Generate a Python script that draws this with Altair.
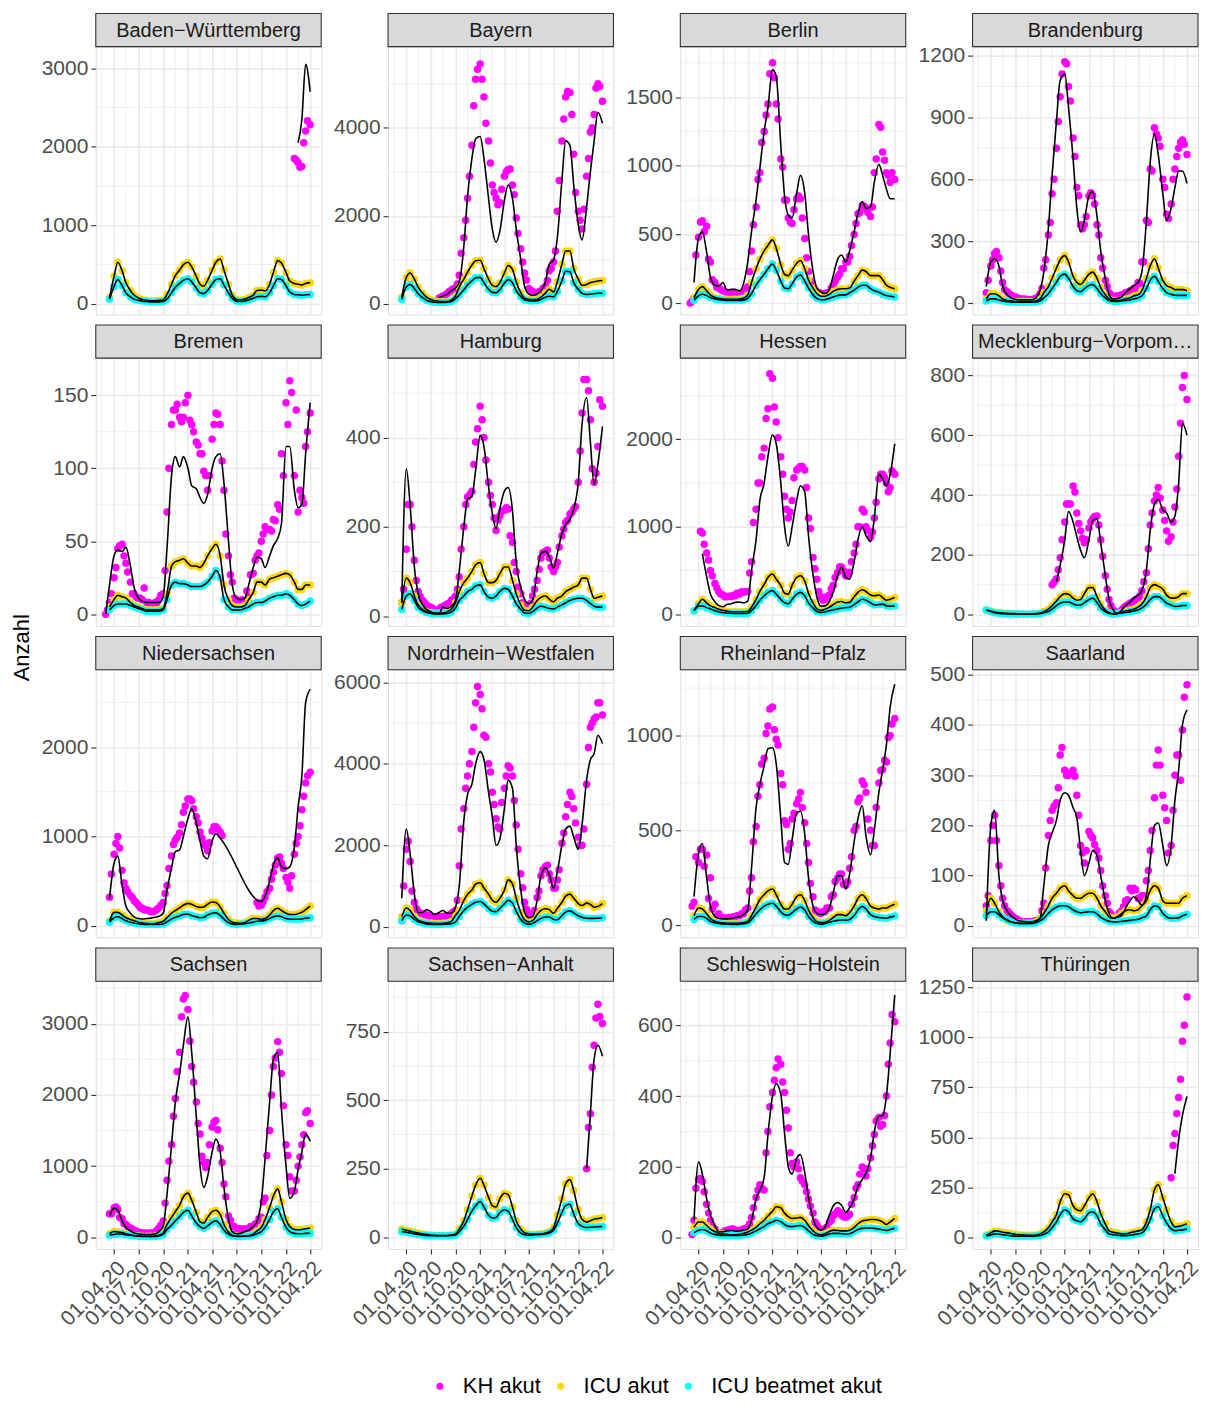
import altair as alt
import pandas as pd

N = None
FONT = "Liberation Sans"

# sampling dates: 1st and 15th of each month
DATES = [
    "2020-03-01", "2020-03-15", "2020-04-01", "2020-04-15", "2020-05-01", "2020-05-15",
    "2020-06-01", "2020-06-15", "2020-07-01", "2020-07-15", "2020-08-01", "2020-08-15",
    "2020-09-01", "2020-09-15", "2020-10-01", "2020-10-15", "2020-11-01", "2020-11-15",
    "2020-12-01", "2020-12-15", "2021-01-01", "2021-01-15", "2021-02-01", "2021-02-15",
    "2021-03-01", "2021-03-15", "2021-04-01", "2021-04-15", "2021-05-01", "2021-05-15",
    "2021-06-01", "2021-06-15", "2021-07-01", "2021-07-15", "2021-08-01", "2021-08-15",
    "2021-09-01", "2021-09-15", "2021-10-01", "2021-10-15", "2021-11-01", "2021-11-15",
    "2021-12-01", "2021-12-15", "2022-01-01", "2022-01-15", "2022-02-01", "2022-02-15",
    "2022-03-01", "2022-03-15", "2022-04-01",
]
# extra KH reading dates: 8th and 22nd of each month
MID_DATES = [
    "2020-03-08", "2020-03-22", "2020-04-08", "2020-04-22", "2020-05-08", "2020-05-22",
    "2020-06-08", "2020-06-22", "2020-07-08", "2020-07-22", "2020-08-08", "2020-08-22",
    "2020-09-08", "2020-09-22", "2020-10-08", "2020-10-22", "2020-11-08", "2020-11-22",
    "2020-12-08", "2020-12-22", "2021-01-08", "2021-01-22", "2021-02-08", "2021-02-22",
    "2021-03-08", "2021-03-22", "2021-04-08", "2021-04-22", "2021-05-08", "2021-05-22",
    "2021-06-08", "2021-06-22", "2021-07-08", "2021-07-22", "2021-08-08", "2021-08-22",
    "2021-09-08", "2021-09-22", "2021-10-08", "2021-10-22", "2021-11-08", "2021-11-22",
    "2021-12-08", "2021-12-22", "2022-01-08", "2022-01-22", "2022-02-08", "2022-02-22",
    "2022-03-08", "2022-03-22",
]

SERIES = ["KH akut", "ICU akut", "ICU beatmet akut"]
COLORS = ["#FF00FF", "#FFD700", "#00FFFF"]

# ---------------- Baden-Württemberg ----------------
BW_KH = [N, N, N, N, N, N, N, N, N, N,
         N, N, N, N, N, N, N, N, N, N,
         N, N, N, N, N, N, N, N, N, N,
         N, N, N, N, N, N, N, N, N, N,
         N, N, N, N, N, N, 1850, 1800, 1750, 2200,
         2280]
BW_KH_MID = [N, N, N, N, N, N, N, N, N, N,
             N, N, N, N, N, N, N, N, N, N,
             N, N, N, N, N, N, N, N, N, N,
             N, N, N, N, N, N, N, N, N, N,
             N, N, N, N, N, N, 1830, 1740, 2050, 2330]
BW_FIT = [N, N, N, N, N, N, N, N, N, N,
          N, N, N, N, N, N, N, N, N, N,
          N, N, N, N, N, N, N, N, N, N,
          N, N, N, N, N, N, N, N, N, N,
          N, N, N, N, N, N, N, 2050, 2350, 3050,
          2700]
BW_ICU = [N, 80, 350, 530, 420, 270, 170, 110, 75, 55,
          45, 40, 40, 45, 50, 120, 250, 360, 430, 500,
          530, 470, 350, 250, 225, 300, 430, 530, 570, 430,
          250, 110, 55, 50, 60, 80, 110, 170, 175, 165,
          250, 400, 550, 520, 400, 290, 260, 250, 240, 260,
          270]
BW_VENT = [N, 60, 220, 310, 230, 140, 90, 60, 45, 35,
           30, 25, 25, 25, 30, 60, 140, 210, 260, 300,
           320, 280, 200, 140, 130, 170, 250, 310, 320, 240,
           140, 70, 35, 30, 35, 50, 70, 90, 95, 90,
           140, 230, 320, 310, 230, 150, 120, 115, 110, 115,
           120]

# ---------------- Bayern ----------------
BY_KH = [N, N, N, N, N, N, N, N, N, N,
         130, 180, 240, 300, 360, 650, 1500, 2400, 3600, 5100,
         5450, 4700, 3700, 2700, 2400, 2300, 2900, 3050, 2700, 1950,
         1250, 700, 350, 280, 260, 290, 400, 750, 950, 2100,
         3700, 4700, 4800, 3400, 2100, 1700, 2900, 3900, 4300, 5000,
         4600]
BY_KH_MID = [N, N, N, N, N, N, N, N, N, N,
             150, 195, 280, 340, 450, 1150, 1900, 2900, 4500, 5330,
             5100, 4100, 3200, 2530, 2250, 2600, 3000, 3060, 2480, 1600,
             950, 540, 310, 260, 275, 350, 530, 800, 1200, 2800,
             4200, 4820, 4300, 2530, 1900, 2150, 3300, 4000, 4900, 4940]
BY_FIT = [N, N, N, N, N, N, N, N, N, N,
          140, 180, 220, 300, 360, 500, 1300, 2450, 3300, 3750,
          3800, 3300, 2400, 1700, 1400, 1650, 2350, 2700, 2400, 1700,
          1000, 400, 220, 190, 230, 300, 500, 900, 1000, 1500,
          2800, 3700, 3600, 2700, 1800, 1450, 2200, 3000, 3700, 4350,
          4100]
BY_ICU = [N, 150, 600, 700, 560, 380, 240, 150, 100, 70,
          55, 50, 55, 80, 180, 380, 560, 720, 880, 980,
          990, 800, 560, 420, 390, 480, 700, 870, 780, 500,
          250, 130, 100, 90, 100, 150, 250, 330, 270, 500,
          900, 1200, 1200, 800, 560, 420, 440, 480, 500, 520,
          530]
BY_VENT = [N, 100, 380, 440, 350, 230, 140, 80, 50, 35,
           30, 30, 35, 50, 120, 200, 320, 430, 520, 590,
           600, 480, 330, 260, 250, 320, 470, 550, 480, 300,
           160, 90, 70, 65, 70, 100, 150, 170, 160, 280,
           520, 740, 730, 480, 330, 240, 210, 220, 230, 240,
           240]

# ---------------- Berlin ----------------
BE_KH = [0, 40, 480, 600, 560, 300, 150, 110, 90, 80,
         70, 65, 60, 80, 120, 380, 700, 950, 1250, 1450,
         1750, 1450, 1050, 750, 620, 580, 760, 760, 470, 230,
         120, 80, 70, 68, 75, 130, 190, 250, 300, 340,
         500, 650, 710, 690, 630, 950, 1300, 1100, 950, 880,
         900]
BE_KH_MID = [15, 350, 590, 520, 320, 170, 115, 100, 82, 75,
             70, 62, 60, 95, 230, 570, 900, 1170, 1370, 1670,
             1640, 1340, 990, 750, 590, 680, 780, 620, 330, 160,
             100, 78, 68, 75, 110, 160, 210, 250, 300, 420,
             580, 660, 705, 660, 700, 1050, 1280, 1040, 930, 950]
BE_FIT = [N, 150, 480, 520, 370, 190, 130, 125, 150, 95,
          100, 100, 90, 140, 300, 520, 750, 980, 1250, 1420,
          1700, 1650, 1150, 780, 640, 620, 800, 930, 800, 500,
          230, 110, 80, 70, 100, 200, 320, 350, 300, 380,
          520, 650, 740, 690, 700, 880, 1010, 930, 830, 760,
          760]
BE_ICU = [N, 40, 100, 120, 90, 60, 40, 35, 30, 28,
          28, 28, 30, 35, 60, 150, 250, 320, 380, 420,
          460, 400, 280, 210, 200, 240, 290, 310, 250, 170,
          110, 70, 50, 50, 65, 85, 100, 105, 105, 110,
          160, 200, 240, 230, 200, 200, 200, 170, 130, 115,
          105]
BE_VENT = [N, 20, 55, 65, 55, 40, 30, 25, 22, 20,
           20, 20, 20, 22, 35, 70, 130, 170, 210, 250,
           285, 240, 160, 110, 105, 140, 190, 205, 160, 110,
           60, 35, 25, 25, 35, 45, 55, 60, 60, 75,
           95, 115, 130, 130, 105, 90, 80, 65, 55, 50,
           45]

# ---------------- Brandenburg ----------------
BB_KH = [N, 50, 180, 240, 220, 100, 55, 38, 30, 22,
         20, 17, 16, 22, 45, 170, 330, 530, 750, 1000,
         1170, 1050, 800, 560, 380, 380, 520, 520, 380, 220,
         110, 50, 30, 35, 40, 50, 60, 70, 100, 200,
         400, 650, 850, 800, 600, 430, 480, 650, 750, 790,
         720]
BB_KH_MID = [N, 110, 210, 250, 155, 65, 45, 33, 25, 20,
             18, 16, 20, 28, 70, 210, 390, 600, 880, 1110,
             1160, 980, 710, 520, 360, 420, 535, 480, 330, 170,
             80, 40, 30, 36, 43, 52, 60, 70, 95, 200,
             390, 640, 820, 760, 560, 410, 600, 710, 780, 770]
BB_FIT = [N, 80, 200, 215, 180, 80, 40, 25, 18, 16,
          16, 16, 16, 25, 60, 150, 360, 620, 880, 1080,
          1110, 950, 700, 460, 345, 400, 520, 540, 420, 250,
          120, 40, 20, 22, 30, 50, 70, 85, 100, 150,
          400, 680, 820, 720, 530, 400, 460, 560, 640, 640,
          580]
BB_ICU = [N, 20, 45, 45, 35, 20, 12, 10, 8, 8,
          8, 8, 8, 10, 20, 50, 80, 120, 170, 210,
          230, 200, 130, 100, 90, 110, 140, 150, 120, 75,
          40, 20, 12, 12, 15, 20, 25, 35, 40, 60,
          120, 180, 215, 170, 110, 85, 75, 65, 65, 65,
          60]
BB_VENT = [N, 10, 20, 20, 15, 10, 6, 5, 4, 4,
           4, 4, 4, 5, 10, 25, 45, 70, 100, 130,
           140, 120, 80, 60, 55, 70, 85, 90, 70, 45,
           25, 12, 8, 8, 10, 12, 15, 20, 25, 35,
           70, 110, 130, 105, 70, 50, 42, 38, 37, 37,
           37]

# ---------------- Bremen ----------------
HB_KH = [0, 8, 25, 45, 48, 35, 22, 14, 11, 10,
         8, 7, 8, 10, 14, 70, 130, 140, 135, 135,
         150, 130, 118, 110, 98, 85, 120, 138, 130, 85,
         40, 22, 10, 7, 9, 14, 28, 40, 50, 60,
         58, 65, 75, 110, 145, 160, 95, 70, 80, 115,
         138]
HB_KH_MID = [3, 14, 32, 47, 40, 29, 14, 12, 11, 18,
             8, 7, 8, 13, 30, 100, 140, 144, 132, 145,
             133, 125, 116, 110, 95, 95, 130, 137, 105, 55,
             27, 11, 7, 10, 16, 27, 37, 42, 55, 58,
             57, 64, 72, 95, 130, 152, 140, 85, 76, 125]
HB_FIT = [0, 20, 40, 44, 43, 46, 33, 18, 11, 9,
          8, 8, 8, 8, 12, 45, 95, 108, 101, 108,
          100, 88, 86, 80, 76, 82, 100, 108, 110, 90,
          50, 20, 11, 10, 11, 20, 32, 39, 38, 32,
          40, 47, 52, 62, 115, 115, 85, 73, 75, 110,
          145]
HB_ICU = [N, 5, 10, 13, 12, 11, 8, 6, 5, 4,
          3, 3, 3, 3, 4, 14, 33, 36, 37, 38,
          35, 33, 33, 32, 35, 40, 45, 48, 40, 20,
          10, 6, 5, 5, 6, 10, 15, 22, 22, 20,
          24, 25, 26, 27, 28, 27, 22, 17, 17, 20,
          20]
HB_VENT = [N, 3, 6, 7, 7, 7, 6, 5, 4, 3,
           2, 2, 2, 2, 3, 10, 20, 22, 21, 21,
           20, 19, 19, 19, 20, 22, 26, 30, 25, 10,
           5, 3, 3, 3, 4, 5, 7, 8, 8, 9,
           11, 12, 13, 13, 14, 13, 10, 7, 6, 7,
           9]

# ---------------- Hamburg ----------------
HH_KH = [N, 30, 150, 250, 125, 55, 35, 25, 20, 15,
         15, 20, 27, 35, 45, 88, 200, 267, 280, 390,
         470, 400, 300, 250, 192, 225, 237, 240, 165, 100,
         50, 25, 22, 45, 80, 130, 145, 130, 100, 120,
         180, 210, 228, 240, 300, 455, 530, 440, 300, 380,
         470]
HH_KH_MID = [N, 60, 250, 200, 80, 45, 30, 22, 17, 14,
             20, 24, 29, 38, 60, 150, 250, 272, 340, 420,
             440, 350, 270, 220, 215, 235, 243, 180, 120, 65,
             30, 21, 28, 60, 105, 142, 148, 110, 110, 155,
             195, 215, 232, 245, 370, 530, 505, 330, 320, 485]
HH_FIT = [N, 30, 330, 250, 110, 50, 25, 15, 10, 6,
          5, 20, 17, 22, 35, 100, 200, 262, 268, 327,
          405, 380, 290, 230, 196, 240, 280, 288, 237, 120,
          65, 38, 28, 35, 100, 140, 145, 133, 108, 140,
          185, 205, 217, 240, 300, 430, 490, 390, 295, 340,
          425]
HH_ICU = [N, 30, 85, 75, 45, 25, 15, 10, 8, 7,
          7, 7, 10, 15, 30, 55, 75, 85, 100, 115,
          120, 95, 75, 75, 80, 95, 110, 110, 80, 50,
          25, 13, 12, 20, 35, 42, 45, 38, 32, 40,
          45, 55, 60, 65, 70, 85, 85, 60, 40, 42,
          45]
HH_VENT = [N, 15, 45, 50, 35, 20, 12, 8, 6, 5,
           5, 5, 6, 9, 18, 35, 45, 55, 60, 68,
           70, 55, 42, 40, 45, 55, 62, 60, 45, 28,
           15, 7, 6, 10, 18, 22, 20, 17, 16, 20,
           25, 30, 35, 38, 40, 40, 35, 28, 22, 20,
           20]

# ---------------- Hessen ----------------
HE_KH = [N, N, N, 930, 700, 500, 350, 260, 220, 200,
         200, 210, 230, 250, 260, 600, 1200, 1500, 1900, 2350,
         2700, 2200, 1800, 1350, 1100, 1300, 1650, 1690, 1650, 1100,
         650, 400, 200, 170, 220, 330, 480, 540, 440, 480,
         700, 1000, 1200, 1000, 880, 1100, 1550, 1600, 1500, 1450,
         1600]
HE_KH_MID = [N, N, 950, 800, 620, 440, 300, 230, 200, 205,
             218, 240, 256, 256, 470, 1050, 1500, 1800, 2240, 2750,
             2370, 2020, 1600, 1200, 1170, 1560, 1670, 1690, 1450, 980,
             520, 260, 160, 200, 290, 420, 542, 500, 445, 600,
             800, 1000, 1170, 960, 940, 1280, 1600, 1560, 1400, 1640]
HE_FIT = [N, N, N, 690, 430, 230, 140, 100, 85, 110,
          120, 135, 140, 130, 150, 500, 850, 1300, 1500, 1800,
          2050, 1950, 1500, 1000, 780, 1000, 1300, 1470, 1400, 900,
          450, 200, 90, 95, 150, 250, 450, 540, 420, 400,
          600, 850, 1000, 900, 830, 1100, 1600, 1550, 1470, 1600,
          1950]
HE_ICU = [N, 40, 120, 170, 130, 95, 75, 55, 45, 35,
          27, 27, 27, 28, 30, 80, 170, 260, 340, 420,
          460, 400, 330, 240, 230, 330, 420, 440, 380, 240,
          130, 60, 45, 55, 80, 110, 140, 145, 130, 135,
          200, 250, 280, 260, 220, 210, 220, 190, 160, 170,
          190]
HE_VENT = [N, 40, 90, 95, 75, 60, 40, 25, 18, 12,
           10, 8, 8, 8, 10, 40, 100, 160, 210, 250,
           270, 230, 170, 130, 120, 170, 230, 250, 210, 130,
           70, 30, 20, 25, 40, 50, 60, 70, 75, 80,
           110, 140, 170, 160, 130, 105, 110, 115, 95, 90,
           95]

# ---------------- Mecklenburg-Vorpommern ----------------
MV_KH = [N, N, N, N, N, N, N, N, N, N,
         N, N, N, N, N, N, N, 100, 120, 190,
         310, 370, 430, 340, 280, 240, 290, 320, 330, 250,
         130, 50, 15, 5, 15, 28, 38, 45, 55, 80,
         140, 300, 380, 425, 350, 280, 260, 360, 530, 760,
         720]
MV_KH_MID = [N, N, N, N, N, N, N, N, N, N,
             N, N, N, N, N, N, N, 108, 150, 250,
             370, 370, 410, 305, 255, 250, 310, 328, 300, 195,
             85, 30, 10, 6, 22, 32, 41, 50, 62, 110,
             220, 340, 400, 390, 315, 245, 310, 420, 640, 800]
MV_FIT = [N, N, N, N, N, N, N, N, N, N,
          N, N, N, N, N, N, N, N, 110, 165,
          250, 345, 310, 260, 215, 190, 250, 315, 320, 240,
          130, 50, 15, 3, 15, 30, 42, 55, 65, 80,
          150, 280, 370, 385, 350, 340, 310, 330, 440, 640,
          600]
MV_ICU = [N, 15, 12, 8, 6, 5, 4, 3, 3, 2,
          2, 2, 2, 3, 5, 10, 18, 30, 45, 60,
          70, 68, 55, 48, 50, 70, 90, 90, 60, 35,
          15, 6, 3, 4, 8, 12, 15, 18, 25, 35,
          60, 90, 100, 95, 85, 65, 55, 55, 60, 70,
          70]
MV_VENT = [N, 15, 10, 6, 4, 3, 2, 2, 2, 2,
           2, 2, 2, 2, 3, 6, 10, 18, 30, 38,
           42, 42, 36, 31, 32, 40, 50, 55, 40, 22,
           10, 4, 2, 3, 5, 7, 9, 12, 15, 22,
           35, 50, 60, 60, 50, 38, 32, 27, 28, 30,
           30]

# ---------------- Niedersachsen ----------------
NI_KH = [N, 320, 800, 1000, 620, 420, 340, 280, 230, 195,
         175, 160, 165, 200, 260, 450, 780, 960, 1040, 1270,
         1420, 1400, 1220, 1050, 920, 840, 1060, 1110, 1050, N,
         N, N, N, N, N, N, N, 260, 230, 320,
         420, 600, 760, 700, 540, 420, 800, 1000, 1300, 1600,
         1720]
NI_KH_MID = [N, 580, 920, 870, 480, 380, 315, 260, 200, 180,
             170, 156, 185, 230, 360, 640, 910, 990, 1130, 1340,
             1420, 1310, 1150, 980, 895, 930, 1110, 1085, 1010, N,
             N, N, N, N, N, N, N, 220, 270, 380,
             520, 680, 770, 640, 490, 560, 920, 1120, 1450, 1680]
NI_FIT = [N, 300, 700, 780, 450, 220, 140, 100, 80, 75,
          80, 85, 95, 105, 140, 400, 650, 830, 850, 1000,
          1200, 1310, 1150, 950, 780, 750, 950, 1030, 980, N,
          N, N, N, N, N, N, N, N, 270, 330,
          500, 680, 760, 660, 640, 660, 880, 1330, 1680, 2500,
          2650]
NI_ICU = [N, 50, 150, 150, 120, 90, 70, 55, 40, 30,
          25, 22, 25, 35, 50, 90, 140, 170, 200, 230,
          250, 240, 215, 205, 210, 240, 265, 260, 210, 140,
          70, 40, 30, 28, 35, 60, 80, 80, 70, 80,
          120, 170, 195, 170, 140, 125, 125, 135, 150, 180,
          220]
NI_VENT = [N, 40, 90, 100, 80, 55, 40, 30, 22, 18,
           15, 14, 14, 15, 20, 45, 75, 95, 110, 125,
           130, 115, 100, 90, 95, 120, 140, 145, 115, 75,
           35, 18, 15, 18, 22, 30, 40, 50, 52, 60,
           80, 100, 110, 100, 80, 75, 72, 72, 75, 85,
           90]

# ---------------- Nordrhein-Westfalen ----------------
NW_KH = [N, 150, 1900, 1600, 600, 380, 320, 290, 260, 245,
         245, 250, 270, 320, 400, 1500, 2900, 3700, 4300, 5500,
         5700, 4700, 4000, 3300, 2650, 2400, 3400, 3950, 3700, 2500,
         1300, 600, 290, 330, 720, 1250, 1480, 1300, 950, 1150,
         2050, 2700, 3300, 2900, 2200, 2000, 3500, 4900, 5100, 5500,
         5200]
NW_KH_MID = [N, 1000, 2100, 880, 450, 330, 300, 270, 250, 245,
             245, 265, 290, 360, 650, 2400, 3400, 4000, 4900, 5900,
             5350, 4650, 3800, 3000, 2450, 3050, 3700, 3900, 3100, 1900,
             960, 430, 300, 400, 880, 1400, 1510, 1150, 950, 1400,
             2300, 3000, 3200, 2550, 2000, 2400, 4400, 5000, 5150, 5500]
NW_FIT = [N, 700, 2400, 1800, 800, 350, 350, 420, 370, 300,
          350, 400, 330, 330, 480, 1000, 2600, 3250, 3500, 4000,
          4300, 4100, 3300, 2700, 2000, 2150, 2900, 3600, 3400, 2000,
          900, 350, 220, 250, 650, 1250, 1450, 1280, 950, 1350,
          2000, 2400, 2470, 2200, 1900, 2500, 3600, 4100, 4250, 4700,
          4500]
NW_ICU = [N, 250, 460, 400, 250, 160, 120, 100, 90, 82,
          80, 85, 95, 130, 280, 400, 650, 800, 900, 1050,
          1080, 950, 800, 650, 600, 700, 900, 1150, 1050, 700,
          350, 170, 120, 150, 300, 400, 440, 420, 330, 450,
          600, 750, 800, 700, 570, 520, 580, 550, 480, 500,
          570]
NW_VENT = [N, 150, 290, 270, 180, 120, 90, 70, 60, 55,
           55, 60, 65, 75, 120, 250, 400, 480, 550, 600,
           620, 560, 450, 380, 370, 450, 560, 650, 580, 380,
           180, 90, 60, 80, 150, 200, 240, 240, 180, 170,
           270, 360, 390, 340, 270, 230, 210, 205, 205, 210,
           220]

# ---------------- Rheinland-Pfalz ----------------
RP_KH = [N, 120, 330, 400, 370, 250, 110, 60, 40, 35,
         38, 44, 50, 60, 90, 250, 520, 740, 880, 1050,
         1150, 980, 800, 550, 400, 560, 640, 700, 540, 330,
         150, 75, 62, 70, 90, 160, 250, 270, 210, 300,
         500, 650, 760, 700, 500, 420, 750, 820, 860, 1000,
         1090]
RP_KH_MID = [100, 360, 400, 310, 140, 85, 50, 40, 35, 40,
             44, 50, 60, 80, 180, 440, 680, 850, 1010, 1140,
             1030, 950, 740, 530, 430, 590, 665, 620, 430, 220,
             80, 65, 70, 90, 150, 230, 270, 215, 229, 360,
             520, 670, 740, 560, 420, 620, 815, 870, 990, 1060]
RP_FIT = [N, 150, 380, 430, 250, 100, 45, 35, 33, 33,
          35, 40, 44, 55, 80, 300, 620, 740, 840, 930,
          935, 850, 560, 330, 320, 450, 590, 600, 480, 250,
          100, 62, 55, 60, 90, 170, 260, 260, 190, 270,
          440, 560, 630, 470, 370, 500, 700, 820, 950, 1150,
          1270]
RP_ICU = [N, 50, 90, 85, 60, 35, 20, 15, 12, 10,
          9, 9, 10, 13, 20, 50, 95, 135, 160, 180,
          190, 160, 110, 85, 85, 110, 150, 160, 130, 80,
          40, 18, 14, 15, 25, 40, 55, 55, 50, 65,
          100, 140, 160, 140, 100, 90, 85, 90, 90, 100,
          110]
RP_VENT = [N, 30, 45, 45, 35, 20, 12, 8, 6, 5,
           4, 4, 5, 7, 12, 30, 60, 80, 100, 110,
           115, 100, 70, 55, 52, 65, 85, 95, 80, 45,
           20, 8, 5, 8, 15, 20, 25, 27, 26, 30,
           50, 80, 98, 85, 55, 45, 40, 38, 36, 42,
           48]

# ---------------- Saarland ----------------
SL_KH = [N, 40, 170, 220, 120, 55, 30, 22, 15, 10,
         8, 8, 8, 10, 14, 45, 180, 230, 245, 340,
         310, 300, 310, 260, 160, 125, 188, 175, 150, 110,
         60, 28, 18, 17, 30, 50, 75, 75, 55, 60,
         90, 150, 255, 350, 260, 210, 160, 300, 340, 390,
         480]
SL_KH_MID = [N, 60, 200, 170, 80, 40, 26, 18, 13, 9,
             8, 8, 9, 11, 30, 115, 210, 238, 275, 355,
             300, 305, 298, 220, 145, 150, 180, 162, 135, 80,
             45, 24, 15, 25, 38, 52, 70, 72, 55, 60,
             110, 190, 320, 320, 235, 145, 230, 340, 290, 455]
SL_FIT = [N, 10, 200, 230, 100, 50, 30, 20, 14, 10,
          9, 8, 8, 10, 15, 80, 160, 185, 210, 250,
          265, 260, 235, 215, 150, 100, 125, 150, 140, 100,
          50, 25, 15, 17, 21, 35, 50, 58, 50, 41,
          60, 130, 200, 205, 160, 120, 160, 250, 310, 400,
          430]
SL_ICU = [N, 30, 55, 45, 28, 18, 10, 8, 6, 5,
          5, 5, 6, 8, 15, 25, 40, 55, 65, 75,
          80, 70, 60, 55, 55, 60, 65, 65, 55, 40,
          28, 18, 15, 18, 25, 30, 32, 30, 32, 40,
          50, 70, 80, 75, 50, 45, 45, 45, 45, 55,
          60]
SL_VENT = [N, 20, 28, 28, 22, 16, 12, 8, 6, 5,
           5, 5, 5, 6, 10, 15, 25, 32, 37, 40,
           40, 38, 32, 28, 26, 27, 28, 28, 24, 17,
           12, 9, 8, 8, 9, 10, 11, 12, 13, 16,
           20, 32, 40, 38, 25, 18, 15, 15, 16, 20,
           23]

# ---------------- Sachsen ----------------
SN_KH = [N, 330, 410, 390, 260, 180, 130, 90, 70, 60,
         58, 60, 70, 130, 230, 800, 1300, 1950, 2600, 3350,
         3200, 2400, 1900, 1450, 1050, 1050, 1550, 1640, 1250, 750,
         300, 160, 120, 115, 115, 120, 150, 190, 280, 550,
         1500, 2400, 2750, 2300, 1300, 850, 650, 1000, 1300, 1750,
         1600]
SN_KH_MID = [N, 330, 425, 280, 195, 150, 115, 90, 68, 60,
             58, 65, 100, 170, 480, 1070, 1700, 2330, 3100, 3400,
             2760, 2180, 1600, 1140, 980, 1300, 1620, 1510, 1050, 570,
             240, 150, 120, 117, 117, 150, 188, 260, 500, 1150,
             2000, 2520, 2600, 1850, 1150, 650, 800, 1130, 1440, 1780]
SN_FIT = [N, 300, 410, 380, 230, 140, 90, 60, 45, 40,
          38, 38, 45, 80, 160, 600, 1300, 1900, 2300, 2700,
          3100, 2600, 1700, 1000, 700, 850, 1200, 1380, 1200, 700,
          250, 80, 50, 55, 80, 100, 150, 230, 500, 1100,
          1900, 2500, 2600, 1800, 1000, 550, 650, 950, 1200, 1450,
          1350]
SN_ICU = [N, 50, 80, 75, 65, 50, 35, 25, 18, 15,
          14, 14, 18, 30, 60, 180, 280, 360, 450, 570,
          620, 520, 350, 220, 200, 280, 360, 380, 320, 180,
          70, 30, 18, 15, 18, 25, 45, 90, 140, 250,
          420, 580, 680, 500, 250, 150, 110, 105, 110, 120,
          130]
SN_VENT = [N, 30, 40, 45, 45, 35, 28, 20, 15, 12,
           10, 9, 10, 18, 40, 110, 170, 230, 290, 350,
           380, 300, 200, 150, 125, 160, 210, 230, 180, 100,
           40, 18, 12, 12, 14, 18, 30, 50, 80, 140,
           250, 360, 400, 280, 140, 80, 55, 50, 50, 55,
           56]

# ---------------- Sachsen-Anhalt ----------------
ST_KH = [N, N, N, N, N, N, N, N, N, N,
         N, N, N, N, N, N, N, N, N, N,
         N, N, N, N, N, N, N, N, N, N,
         N, N, N, N, N, N, N, N, N, N,
         N, N, N, N, N, N, 250, 450, 700, 850,
         780]
ST_KH_MID = [N, N, N, N, N, N, N, N, N, N,
             N, N, N, N, N, N, N, N, N, N,
             N, N, N, N, N, N, N, N, N, N,
             N, N, N, N, N, N, N, N, N, N,
             N, N, N, N, N, N, 400, 620, 800, 805]
ST_FIT = [N, N, N, N, N, N, N, N, N, N,
          N, N, N, N, N, N, N, N, N, N,
          N, N, N, N, N, N, N, N, N, N,
          N, N, N, N, N, N, N, N, N, N,
          N, N, N, N, N, N, 250, 450, 650, 700,
          660]
ST_ICU = [N, 30, 25, 22, 18, 15, 12, 10, 8, 7,
          6, 6, 6, 8, 12, 30, 60, 100, 150, 190,
          215, 190, 145, 115, 110, 140, 160, 155, 110, 60,
          30, 16, 12, 11, 11, 12, 15, 20, 35, 80,
          140, 195, 210, 170, 100, 65, 55, 60, 65, 68,
          72]
ST_VENT = [N, 20, 18, 15, 12, 10, 8, 6, 5, 5,
           5, 5, 5, 6, 8, 20, 40, 65, 95, 115,
           130, 110, 80, 70, 72, 90, 100, 95, 65, 35,
           15, 9, 7, 8, 9, 10, 12, 15, 25, 50,
           90, 115, 120, 85, 50, 40, 35, 36, 37, 38,
           39]

# ---------------- Schleswig-Holstein ----------------
SH_KH = [N, 50, 165, 160, 95, 49, 25, 13, 15, 20,
         25, 22, 21, 25, 30, 58, 114, 150, 135, 300,
         410, 480, 490, 410, 310, 210, 215, 170, 150, 110,
         70, 37, 22, 25, 45, 62, 77, 65, 58, 67,
         114, 150, 200, 175, 226, 292, 340, 320, 400, 550,
         610]
SH_KH_MID = [10, 140, 168, 130, 70, 35, 15, 13, 20, 23,
             25, 22, 22, 27, 40, 85, 135, 140, 240, 370,
             445, 505, 440, 360, 240, 200, 195, 160, 130, 90,
             45, 28, 23, 30, 50, 68, 72, 60, 62, 95,
             140, 180, 195, 195, 260, 330, 315, 345, 490, 630]
SH_FIT = [N, 50, 215, 180, 110, 65, 33, 18, 17, 20,
          21, 19, 20, 22, 25, 50, 110, 135, 170, 290,
          400, 435, 405, 295, 200, 180, 225, 235, 185, 115,
          55, 30, 22, 30, 65, 90, 100, 92, 72, 85,
          110, 145, 165, 182, 225, 300, 343, 345, 400, 520,
          685]
SH_ICU = [N, 30, 45, 45, 35, 25, 18, 13, 11, 10,
          9, 9, 10, 13, 17, 22, 30, 40, 50, 62,
          75, 88, 85, 70, 60, 55, 56, 58, 50, 35,
          20, 12, 9, 12, 18, 22, 21, 20, 20, 22,
          30, 40, 48, 50, 52, 52, 50, 45, 38, 45,
          55]
SH_VENT = [N, 15, 22, 24, 20, 14, 10, 8, 7, 7,
           7, 7, 7, 8, 10, 14, 20, 26, 32, 40,
           45, 50, 46, 38, 33, 32, 34, 35, 30, 20,
           10, 6, 5, 7, 11, 13, 13, 12, 11, 12,
           18, 24, 27, 28, 28, 27, 25, 23, 21, 24,
           27]

# ---------------- Thüringen ----------------
TH_KH = [N, N, N, N, N, N, N, N, N, N,
         N, N, N, N, N, N, N, N, N, N,
         N, N, N, N, N, N, N, N, N, N,
         N, N, N, N, N, N, N, N, N, N,
         N, N, N, N, N, N, 300, 520, 700, 980,
         1200]
TH_KH_MID = [N, N, N, N, N, N, N, N, N, N,
             N, N, N, N, N, N, N, N, N, N,
             N, N, N, N, N, N, N, N, N, N,
             N, N, N, N, N, N, N, N, N, N,
             N, N, N, N, N, N, 460, 620, 790, 1060]
TH_FIT = [N, N, N, N, N, N, N, N, N, N,
          N, N, N, N, N, N, N, N, N, N,
          N, N, N, N, N, N, N, N, N, N,
          N, N, N, N, N, N, N, N, N, N,
          N, N, N, N, N, N, N, 320, 490, 610,
          705]
TH_ICU = [N, 15, 25, 35, 33, 28, 25, 22, 18, 15,
          14, 13, 13, 14, 20, 30, 50, 80, 115, 180,
          220, 215, 160, 140, 135, 160, 200, 220, 180, 120,
          70, 35, 28, 24, 20, 20, 25, 30, 35, 40,
          80, 140, 240, 265, 200, 140, 80, 55, 58, 62,
          70]
TH_VENT = [N, 10, 15, 20, 19, 16, 13, 10, 9, 8,
           8, 8, 8, 9, 12, 18, 30, 50, 80, 115,
           140, 130, 95, 85, 80, 95, 125, 130, 110, 70,
           40, 20, 16, 13, 11, 11, 13, 16, 20, 25,
           50, 90, 145, 155, 110, 75, 45, 36, 38, 40,
           44]

# panel label, data arrays, y breaks, y minor breaks, y domain
PANELS = [
    ("Baden−Württemberg", BW_KH, BW_KH_MID, BW_FIT, BW_ICU, BW_VENT, [0, 1000, 2000, 3000], [500, 1500, 2500], [-134, 3274]),
    ("Bayern", BY_KH, BY_KH_MID, BY_FIT, BY_ICU, BY_VENT, [0, 2000, 4000], [1000, 3000, 5000], [-240, 5841]),
    ("Berlin", BE_KH, BE_KH_MID, BE_FIT, BE_ICU, BE_VENT, [0, 500, 1000, 1500], [250, 750, 1250, 1750], [-82, 1867]),
    ("Brandenburg", BB_KH, BB_KH_MID, BB_FIT, BB_ICU, BB_VENT, [0, 300, 600, 900, 1200], [150, 450, 750, 1050], [-55, 1243]),
    ("Bremen", HB_KH, HB_KH_MID, HB_FIT, HB_ICU, HB_VENT, [0, 50, 100, 150], [25, 75, 125, 175], [-8, 175.5]),
    ("Hamburg", HH_KH, HH_KH_MID, HH_FIT, HH_ICU, HH_VENT, [0, 200, 400], [100, 300, 500], [-22, 578]),
    ("Hessen", HE_KH, HE_KH_MID, HE_FIT, HE_ICU, HE_VENT, [0, 1000, 2000], [500, 1500, 2500], [-134, 2929]),
    ("Mecklenburg−Vorpommern", MV_KH, MV_KH_MID, MV_FIT, MV_ICU, MV_VENT, [0, 200, 400, 600, 800], [100, 300, 500, 700], [-38, 858]),
    ("Niedersachsen", NI_KH, NI_KH_MID, NI_FIT, NI_ICU, NI_VENT, [0, 1000, 2000], [500, 1500, 2500], [-131, 2868]),
    ("Nordrhein−Westfalen", NW_KH, NW_KH_MID, NW_FIT, NW_ICU, NW_VENT, [0, 2000, 4000, 6000], [1000, 3000, 5000], [-262, 6311]),
    ("Rheinland−Pfalz", RP_KH, RP_KH_MID, RP_FIT, RP_ICU, RP_VENT, [0, 500, 1000], [250, 750, 1250], [-65, 1347]),
    ("Saarland", SL_KH, SL_KH_MID, SL_FIT, SL_ICU, SL_VENT, [0, 100, 200, 300, 400, 500], [50, 150, 250, 350, 450], [-23, 510]),
    ("Sachsen", SN_KH, SN_KH_MID, SN_FIT, SN_ICU, SN_VENT, [0, 1000, 2000, 3000], [500, 1500, 2500, 3500], [-164, 3599]),
    ("Sachsen−Anhalt", ST_KH, ST_KH_MID, ST_FIT, ST_ICU, ST_VENT, [0, 250, 500, 750], [125, 375, 625, 875], [-43, 934]),
    ("Schleswig−Holstein", SH_KH, SH_KH_MID, SH_FIT, SH_ICU, SH_VENT, [0, 200, 400, 600], [100, 300, 500, 700], [-31, 724]),
    ("Thüringen", TH_KH, TH_KH_MID, TH_FIT, TH_ICU, TH_VENT, [0, 250, 500, 750, 1000, 1250], [125, 375, 625, 875, 1125], [-55, 1279]),
]

X_MAJOR = [(2020, 4), (2020, 7), (2020, 10), (2021, 1), (2021, 4), (2021, 7), (2021, 10), (2022, 1), (2022, 4)]
X_MINOR = ["2020-02-15", "2020-05-16", "2020-08-16", "2020-11-15", "2021-02-15",
           "2021-05-16", "2021-08-16", "2021-11-15", "2022-02-15"]

W, H = 226, 268.4
GRID = "#EBEBEB"

x_scale = alt.Scale(type="utc", domain=[alt.DateTime(year=2020, month=1, date=24, utc=True),
                                        alt.DateTime(year=2022, month=5, date=12, utc=True)])
x_values = [alt.DateTime(year=y, month=m, date=1, utc=True) for y, m in X_MAJOR]


def make_panel(idx, label, kh, kh_mid, fit, icu, vent, ymaj, ymin, ydom):
    bottom = idx >= 12
    xaxis = alt.Axis(values=x_values, format="%d.%m.%y", labelAngle=315, labelAlign="right",
                     labelBaseline="top", labelFontSize=21, labelColor="#4D4D4D", labelFont=FONT,
                     labelPadding=3, labelOverlap=False, labelFlush=False, tickColor="#333333",
                     tickSize=5, tickWidth=1.1, domain=False, grid=True, gridColor=GRID, gridWidth=1.6,
                     title=None, labels=bottom, ticks=bottom)
    yaxis = alt.Axis(values=ymaj, format="d", labelFontSize=21, labelColor="#4D4D4D", labelFont=FONT,
                     labelPadding=3, tickColor="#333333", tickSize=5, tickWidth=1.1, domain=False,
                     grid=True, gridColor=GRID, gridWidth=1.6, title=None, labelFlush=False)
    y_scale = alt.Scale(domain=ydom, nice=False, zero=False)

    prow = []
    for s, dates, arr in [(SERIES[0], DATES, kh), (SERIES[0], MID_DATES, kh_mid),
                          (SERIES[1], DATES, icu), (SERIES[2], DATES, vent)]:
        for d, v in zip(dates, arr):
            if v is not None:
                prow.append({"date": d, "value": v, "series": s})
    lrow = []
    for s, arr in zip(["kh", "icu", "vent"], [fit, icu, vent]):
        for d, v in zip(DATES, arr):
            if v is not None:
                lrow.append({"date": d, "value": v, "series": s})
    pts_df = pd.DataFrame(prow)
    line_df = pd.DataFrame(lrow)

    X = lambda f: alt.X(f, scale=x_scale, axis=xaxis, title=None)
    Y = lambda f: alt.Y(f, scale=y_scale, axis=yaxis, title=None)

    minor_x = alt.Chart(pd.DataFrame({"d": X_MINOR})).mark_rule(color=GRID, strokeWidth=0.8).encode(
        x=X("d:T"))
    minor_y = alt.Chart(pd.DataFrame({"v": ymin})).mark_rule(color=GRID, strokeWidth=0.8).encode(
        y=Y("v:Q"))
    pts = alt.Chart(pts_df).mark_circle(size=56, opacity=1, clip=True).encode(
        x=X("date:T"), y=Y("value:Q"),
        color=alt.Color("series:N", scale=alt.Scale(domain=SERIES, range=COLORS),
                        legend=alt.Legend(orient="none", legendX=334, legendY=1332, direction="horizontal",
                                          title=None, labelFontSize=22, labelFont=FONT, labelColor="#000000",
                                          labelLimit=0, symbolType="circle", symbolSize=50,
                                          symbolStrokeWidth=0, symbolOpacity=1, labelOffset=12,
                                          columnPadding=8, padding=0)),
    )
    lines = alt.Chart(line_df).mark_line(color="black", strokeWidth=1.6, interpolate="monotone", clip=True).encode(
        x=X("date:T"), y=Y("value:Q"), detail="series:N")
    strip_df = pd.DataFrame({"label": [label]})
    strip = alt.Chart(strip_df).mark_rect(fill="#D9D9D9", stroke="#333333", strokeWidth=1.1).encode(
        x=alt.value(0), x2=alt.value(W), y=alt.value(-33.3), y2=alt.value(0))
    strip_txt = alt.Chart(strip_df).mark_text(fontSize=20, font=FONT, color="#1A1A1A", baseline="middle",
                                              align="center", limit=W - 4, ellipsis="").encode(
        x=alt.value(W / 2), y=alt.value(-16), text="label:N")
    layers = [minor_x, minor_y, pts, lines, strip, strip_txt]
    if idx == 8:
        ttl = alt.Chart(pd.DataFrame({"t": ["Anzahl"]})).mark_text(
            fontSize=22, font=FONT, color="#000000", angle=270, baseline="middle", align="center").encode(
            x=alt.value(-74), y=alt.value(-22), text="t:N")
        layers.append(ttl)
    return alt.layer(*layers).properties(width=W, height=H)


panels = [make_panel(i, *p) for i, p in enumerate(PANELS)]

chart = alt.concat(*panels, columns=4, spacing={"row": 43.3, "column": 67}, bounds="flush").properties(
    padding={"left": 2, "top": 2, "right": 1, "bottom": 0}
).configure_view(stroke="#333333", strokeWidth=1.3).configure(font=FONT)

chart.save("out.html", embed_options={"renderer": "svg", "actions": False})
